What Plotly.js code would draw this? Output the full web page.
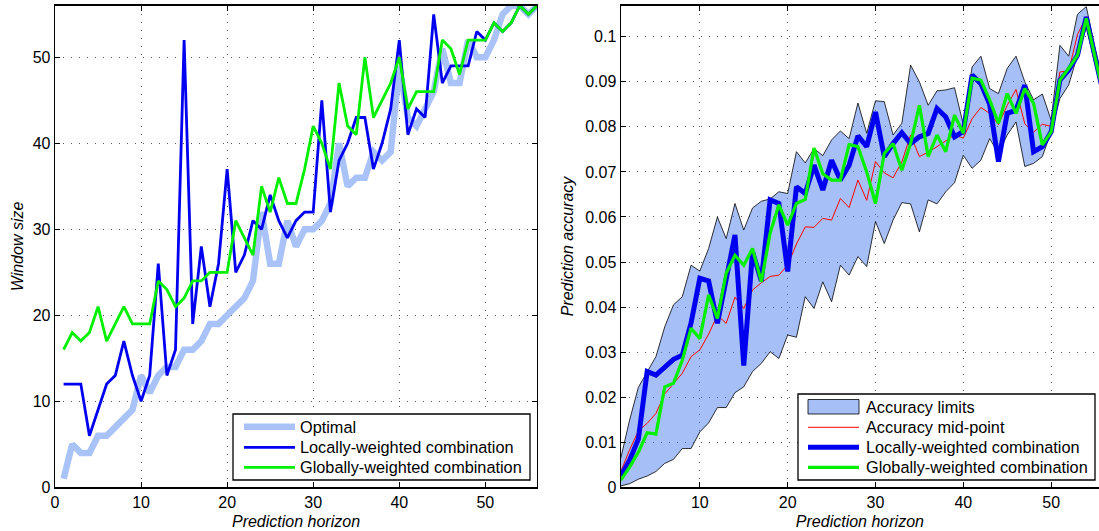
<!DOCTYPE html>
<html>
<head>
<meta charset="utf-8">
<script src="https://cdn.plot.ly/plotly-3.0.1.min.js"></script>
<style>
  html, body { margin: 0; padding: 0; background: #fff; }
  #chart { width: 1099px; height: 531px; }
</style>
</head>
<body>
<div id="chart"></div>
<script>
// Prediction horizon (shared by both panels)
const horizon = [1,2,3,4,5,6,7,8,9,10,11,12,13,14,15,16,17,18,19,20,21,22,23,24,25,26,27,28,
                 29,30,31,32,33,34,35,36,37,38,39,40,41,42,43,44,45,46,47,48,49,50,51,52,53,54,55,56];

// Left panel: window size per horizon
const optimalWindow = [1,5,4,4,6,6,7,8,9,13,11,13,14,14,16,16,17,19,19,20,21,22,24,32,26,26,31,28,
                       30,30,31,33,40,35,36,36,39,38,39,49,43,42,44,46,51,47,47,52,50,50,52,55,56,56,55,56];
const localWindow = [12,12,12,6,9,12,13,17,13,10,13,26,13,16,52,19,28,21,26,37,25,27,31,30,34,31,29,31,
                     32,32,45,32,38,40,43,43,37,40,44,52,41,44,43,55,47,49,49,49,53,52,54,53,54,56,55,56];
const globalWindow = [16,18,17,18,21,17,19,21,19,19,19,24,23,21,22,24,24,25,25,25,31,29,27,35,32,36,33,33,
                      37,42,40,37,47,42,41,50,43,45,47,50,44,46,46,46,52,51,48,52,52,52,54,53,54,56,55,56];

// Right panel: prediction accuracy per horizon
const accUpper = [0.0065,0.0149,0.0222,0.0255,0.029,0.0356,0.0405,0.0423,0.0493,0.048,0.053,0.060,0.0552,0.063,
                  0.0571,0.062,0.0635,0.064,0.0656,0.0652,0.0745,0.072,0.0752,0.0736,0.0771,0.0791,0.0774,0.0853,
                  0.0786,0.0858,0.0856,0.0782,0.0808,0.0937,0.090,0.0848,0.088,0.0882,0.0887,0.0805,0.0933,0.0957,
                  0.0885,0.0874,0.093,0.0957,0.090,0.086,0.0873,0.0815,0.0981,0.0957,0.105,0.1067,0.0975,0.0895];
const accLower = [0.0003,0.0008,0.0018,0.0025,0.0035,0.0053,0.0062,0.0086,0.0086,0.0123,0.0143,0.0177,0.0177,0.021,
                  0.0223,0.0257,0.0275,0.0301,0.0286,0.0338,0.0333,0.0423,0.0397,0.0456,0.0412,0.0493,0.0471,0.0512,
                  0.049,0.059,0.0541,0.0593,0.0632,0.0629,0.0567,0.0638,0.0629,0.0656,0.0676,0.0737,0.0708,0.0726,
                  0.0774,0.0741,0.0782,0.0811,0.0712,0.0719,0.0734,0.0789,0.0863,0.0893,0.0959,0.102,0.094,0.086];
const accMid = [0.0035,0.0083,0.0125,0.0142,0.0164,0.0207,0.023,0.0253,0.029,0.0305,0.034,0.0382,0.0364,0.0422,
                0.0397,0.0438,0.0454,0.0468,0.0471,0.0493,0.054,0.0578,0.0577,0.0597,0.0593,0.0641,0.0621,0.0682,
                0.0637,0.0723,0.0698,0.0687,0.0722,0.0782,0.0734,0.0744,0.0756,0.0769,0.0782,0.0775,0.0818,0.0843,
                0.083,0.0805,0.0848,0.0883,0.0807,0.0788,0.0806,0.0801,0.0922,0.0924,0.1005,0.1045,0.0958,0.0878];
const accLocal = [0.0025,0.006,0.0107,0.0257,0.0249,0.0268,0.0284,0.0293,0.0365,0.0464,0.0458,0.0364,0.0467,0.056,
                  0.027,0.0523,0.0458,0.0638,0.063,0.0479,0.0667,0.0652,0.0715,0.066,0.0726,0.0682,0.0715,0.078,
                  0.0756,0.0833,0.0734,0.0763,0.0787,0.0763,0.0778,0.0785,0.0841,0.0822,0.0778,0.079,0.0915,0.0896,
                  0.085,0.0723,0.083,0.0837,0.0893,0.0745,0.0756,0.0789,0.0904,0.0926,0.0959,0.1044,0.0955,0.087];
const accGlobal = [0.0016,0.0045,0.0078,0.0121,0.0118,0.0223,0.0231,0.0282,0.0353,0.033,0.0427,0.0375,0.0475,0.0515,
                   0.0493,0.053,0.0456,0.0564,0.0627,0.0582,0.063,0.0639,0.0753,0.0696,0.0682,0.0682,0.0761,0.0756,
                   0.070,0.063,0.0741,0.0763,0.0704,0.0763,0.0848,0.0734,0.0782,0.0745,0.0826,0.0786,0.0908,0.0904,
                   0.086,0.0808,0.0874,0.083,0.0885,0.0852,0.076,0.0789,0.0904,0.093,0.0959,0.1041,0.0955,0.087];

const leftLegendLabels = ['Optimal', 'Locally-weighted combination', 'Globally-weighted combination'];
const rightLegendLabels = ['Accuracy limits', 'Accuracy mid-point', 'Locally-weighted combination', 'Globally-weighted combination'];

const W = 1099, H = 531;
const px = v => v / W;          // pixel -> paper x
const py = v => 1 - v / H;      // pixel -> paper y

const FONT = 'Liberation Sans, Arial, Helvetica, sans-serif';
const LIGHT = '#a9c3f9';
const BLUE = '#0000f0';
const GREEN = '#00f000';
const RED = '#ff0000';

const traces = [
  // left panel
  {x: horizon, y: optimalWindow, xaxis: 'x', yaxis: 'y', mode: 'lines',
   line: {color: LIGHT, width: 6.5, shape: 'linear'}, name: leftLegendLabels[0], showlegend: false},
  {x: horizon, y: localWindow, xaxis: 'x', yaxis: 'y', mode: 'lines',
   line: {color: BLUE, width: 2.8}, name: leftLegendLabels[1], showlegend: false},
  {x: horizon, y: globalWindow, xaxis: 'x', yaxis: 'y', mode: 'lines',
   line: {color: GREEN, width: 2.8}, name: leftLegendLabels[2], showlegend: false},
  // right panel: accuracy band
  {x: horizon, y: accLower, xaxis: 'x2', yaxis: 'y2', mode: 'lines',
   line: {color: '#000', width: 0.8}, showlegend: false, hoverinfo: 'skip'},
  {x: horizon, y: accUpper, xaxis: 'x2', yaxis: 'y2', mode: 'lines', fill: 'tonexty',
   fillcolor: 'rgba(77,127,239,0.5)', line: {color: '#000', width: 0.8},
   name: rightLegendLabels[0], showlegend: false},
  {x: horizon, y: accMid, xaxis: 'x2', yaxis: 'y2', mode: 'lines',
   line: {color: RED, width: 1}, name: rightLegendLabels[1], showlegend: false},
  {x: horizon, y: accLocal, xaxis: 'x2', yaxis: 'y2', mode: 'lines',
   line: {color: BLUE, width: 5}, name: rightLegendLabels[2], showlegend: false},
  {x: horizon, y: accGlobal, xaxis: 'x2', yaxis: 'y2', mode: 'lines',
   line: {color: GREEN, width: 3.2}, name: rightLegendLabels[3], showlegend: false}
];

const axisCommon = {
  showline: true, linecolor: '#000', linewidth: 1.3,
  ticks: 'inside', ticklen: 5, tickcolor: '#000', tickwidth: 1,
  showgrid: true, gridcolor: '#555', gridwidth: 1, griddash: '1px,7px',
  zeroline: false, automargin: false,
  tickfont: {family: FONT, size: 16, color: '#000'}
};
const titleFont = {family: FONT, size: 16, color: '#000'};

// legend boxes, samples and labels
const shapes = [];
const annotations = [];
function legendBox(x0, y0, x1, y1) {
  shapes.push({type: 'rect', xref: 'paper', yref: 'paper', x0: px(x0), x1: px(x1), y0: py(y1), y1: py(y0),
               line: {color: '#000', width: 1.3}, fillcolor: '#fff', layer: 'above'});
}
function legendLine(x0, x1, y, color, width) {
  shapes.push({type: 'line', xref: 'paper', yref: 'paper', x0: px(x0), x1: px(x1), y0: py(y), y1: py(y),
               line: {color: color, width: width}, layer: 'above'});
}
function legendText(x, y, text) {
  annotations.push({xref: 'paper', yref: 'paper', x: px(x), y: py(y), text: text, showarrow: false,
                    xanchor: 'left', yanchor: 'middle', font: {family: FONT, size: 16.3, color: '#000'}});
}

legendBox(233, 414, 530, 480);
const leftRows = [426.7, 447.3, 467.3];
legendLine(244, 295, leftRows[0], LIGHT, 6.5);
legendLine(244, 295, leftRows[1], BLUE, 2.8);
legendLine(244, 295, leftRows[2], GREEN, 2.8);
leftLegendLabels.forEach((t, i) => legendText(298, leftRows[i], t));

legendBox(798, 394, 1095, 480);
const rightRows = [406.7, 427.3, 447.3, 467.3];
shapes.push({type: 'rect', xref: 'paper', yref: 'paper', x0: px(808), x1: px(859), y0: py(414), y1: py(399.5),
             line: {color: '#000', width: 0.8}, fillcolor: '#a6bff7', layer: 'above'});
legendLine(808, 859, rightRows[1], RED, 1);
legendLine(808, 859, rightRows[2], BLUE, 5);
legendLine(808, 859, rightRows[3], GREEN, 3.2);
rightLegendLabels.forEach((t, i) => legendText(864, rightRows[i], t));

const yDom = [1 - 487.3 / H, 1 - 5.7 / H];

const layout = {
  width: W, height: H,
  margin: {l: 0, r: 0, t: 0, b: 0, pad: 0},
  paper_bgcolor: '#fff', plot_bgcolor: '#fff',
  showlegend: false,
  font: {family: FONT, size: 16, color: '#000'},
  xaxis: Object.assign({}, axisCommon, {
    domain: [55 / W, 537 / W], range: [0, 56], tick0: 0, dtick: 10, mirror: 'ticks', anchor: 'y',
    title: {text: '<i>Prediction horizon</i>', font: titleFont, standoff: 6}
  }),
  yaxis: Object.assign({}, axisCommon, {
    domain: yDom, range: [0, 56], tick0: 0, dtick: 10, mirror: 'ticks', anchor: 'x',
    title: {text: '<i>Window size</i>', font: titleFont, standoff: 5}
  }),
  xaxis2: Object.assign({}, axisCommon, {
    domain: [620.8 / W, 1], range: [1, 55.45], tick0: 0, dtick: 10, mirror: 'ticks', anchor: 'y2',
    title: {text: '<i>Prediction horizon</i>', font: titleFont, standoff: 6}
  }),
  yaxis2: Object.assign({}, axisCommon, {
    domain: yDom, range: [0, 0.1069], tick0: 0, dtick: 0.01, mirror: false, anchor: 'x2',
    title: {text: '<i>Prediction accuracy</i>', font: titleFont, standoff: 7}
  }),
  shapes: shapes,
  annotations: annotations
};

Plotly.newPlot('chart', traces, layout, {displayModeBar: false, staticPlot: true});
</script>
</body>
</html>
